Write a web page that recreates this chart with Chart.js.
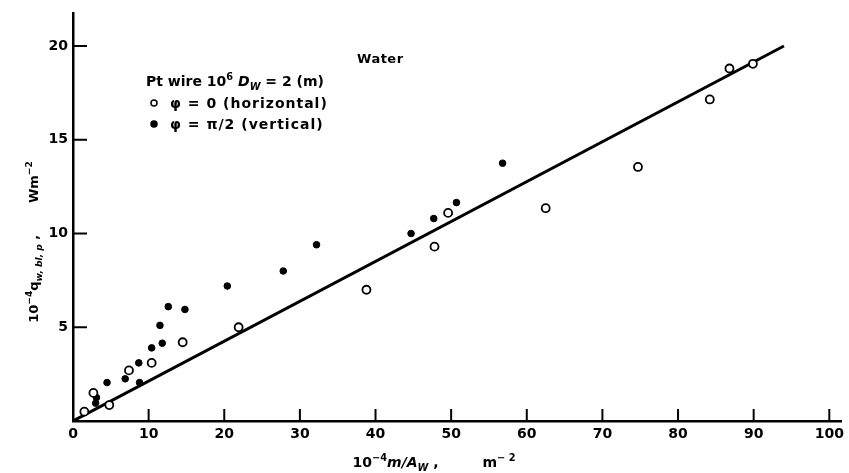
<!DOCTYPE html>
<html>
<head>
<meta charset="utf-8">
<script src="https://cdn.jsdelivr.net/npm/chart.js@4/dist/chart.umd.min.js"></script>
<style>
  html, body { margin: 0; padding: 0; background: #fff; }
  #wrap { width: 849px; height: 473px; }
</style>
</head>
<body>
<div id="wrap"><canvas id="qChart"></canvas></div>
<script>
// tick values
const xTicks = [0, 10, 20, 30, 40, 50, 60, 70, 80, 90, 100];
const yTicks = [0, 5, 10, 15, 20];

// correlation line
const lineX = [0, 94];
const lineY = [0, 20];

// phi = 0 (horizontal wire), open circles
const horizX = [1.5, 2.7, 4.8, 7.4, 10.4, 14.5, 21.9, 38.8, 47.8, 49.6, 62.5, 74.7, 84.2, 86.8, 89.9];
const horizY = [0.5, 1.5, 0.85, 2.7, 3.1, 4.2, 5.0, 7.0, 9.3, 11.1, 11.35, 13.55, 17.15, 18.8, 19.05];

// phi = pi/2 (vertical wire), filled circles
const vertX = [3.0, 3.1, 4.5, 6.9, 8.7, 8.8, 10.4, 11.5, 11.8, 12.6, 14.8, 20.4, 27.8, 32.2, 44.7, 47.7, 50.7, 56.8];
const vertY = [0.95, 1.25, 2.05, 2.25, 3.1, 2.05, 3.9, 5.1, 4.15, 6.1, 5.95, 7.2, 8.0, 9.4, 10.0, 10.8, 11.65, 13.75];

const toPts = (xs, ys) => xs.map((x, i) => ({ x: x, y: ys[i] }));

const INK = "#000";
const FONT = "'DejaVu Sans', sans-serif";

// draws text made of pieces, some raised or lowered
function segFont(s, size) {
  const fs = s.sup || s.sub ? size * 0.7 : size;
  return (s.it ? "italic " : "") + "bold " + fs + "px " + FONT;
}
function richWidth(ctx, segs, size) {
  let w = 0;
  segs.forEach(s => {
    ctx.font = segFont(s, size);
    w += ctx.measureText(s.t).width;
  });
  return w;
}
function drawRich(ctx, segs, x, y, size, align, spacing) {
  ctx.letterSpacing = (spacing || 0) + "px";
  let cx = align === "center" ? x - richWidth(ctx, segs, size) / 2 : x;
  ctx.textBaseline = "alphabetic";
  ctx.textAlign = "left";
  segs.forEach(s => {
    ctx.font = segFont(s, size);
    const dy = s.sup ? -size * 0.45 : s.sub ? size * 0.3 : 0;
    ctx.fillText(s.t, cx, y + dy);
    cx += ctx.measureText(s.t).width;
  });
  ctx.letterSpacing = "0px";
}

const decor = {
  id: "decor",
  beforeDatasetsDraw(chart) {
    const ctx = chart.ctx;
    const xs = chart.scales.x, ys = chart.scales.y;
    const a = chart.chartArea;
    ctx.save();
    ctx.strokeStyle = INK;
    ctx.lineWidth = 2;
    xTicks.slice(1).forEach(v => {
      const px = xs.getPixelForValue(v);
      ctx.beginPath();
      ctx.moveTo(px, a.bottom);
      ctx.lineTo(px, a.bottom - 12);
      ctx.stroke();
    });
    yTicks.slice(1).forEach(v => {
      const py = ys.getPixelForValue(v);
      ctx.beginPath();
      ctx.moveTo(a.left, py);
      ctx.lineTo(a.left + 14, py);
      ctx.stroke();
    });
    ctx.restore();
  },
  afterDraw(chart) {
    const ctx = chart.ctx;
    const ds = chart.data.datasets;
    ctx.save();
    ctx.fillStyle = INK;

    // x axis title
    drawRich(ctx, [
      { t: "10" }, { t: "−4", sup: true }, { t: "m/A", it: true }, { t: "W", sub: true, it: true },
      { t: " ,         m" }, { t: "− 2", sup: true }
    ], 434, 467, 14, "center");

    // y axis title
    ctx.save();
    ctx.translate(38, 242);
    ctx.rotate(-Math.PI / 2);
    drawRich(ctx, [
      { t: "10" }, { t: "−4", sup: true }, { t: "q" }, { t: "w, bl, p", sub: true, it: true },
      { t: " ,       Wm" }, { t: "−2", sup: true }
    ], 0, 0, 13, "center");
    ctx.restore();

    drawRich(ctx, [{ t: "Water" }], 357, 63, 13, "left", 0.5);
    drawRich(ctx, [
      { t: "Pt wire 10" }, { t: "6", sup: true }, { t: " D", it: true }, { t: "W", sub: true, it: true },
      { t: " = 2 (m)" }
    ], 146, 86, 14, "left", 0);

    // legend rows from the two marker datasets
    [ds[1], ds[2]].forEach((d, i) => {
      const yy = 103 + i * 21;
      ctx.beginPath();
      ctx.arc(154, yy, 3, 0, Math.PI * 2);
      ctx.fillStyle = d.backgroundColor;
      ctx.fill();
      ctx.lineWidth = 1.5;
      ctx.strokeStyle = INK;
      ctx.stroke();
      ctx.fillStyle = INK;
      drawRich(ctx, [{ t: d.label }], 170, yy + 5, 14, "left", 1);
    });
    ctx.restore();
  }
};

new Chart(document.getElementById("qChart"), {
  type: "scatter",
  data: {
    datasets: [
      {
        label: "fit",
        data: toPts(lineX, lineY),
        showLine: true,
        borderColor: INK,
        borderWidth: 3,
        pointRadius: 0,
        order: 3,
      },
      {
        label: "φ = 0 (horizontal)",
        data: toPts(horizX, horizY),
        backgroundColor: "#fff",
        borderColor: INK,
        borderWidth: 1.8,
        pointRadius: 4,
        order: 1,
      },
      {
        label: "φ = π/2 (vertical)",
        data: toPts(vertX, vertY),
        backgroundColor: INK,
        borderColor: INK,
        borderWidth: 1,
        pointRadius: 3.3,
        order: 2,
      },
    ],
  },
  options: {
    responsive: true,
    maintainAspectRatio: false,
    animation: false,
    layout: { padding: { top: 8, right: 5, left: 0, bottom: 0 } },
    plugins: {
      legend: { display: false },
      tooltip: { enabled: false },
    },
    scales: {
      x: {
        type: "linear",
        min: 0,
        max: 101.6,
        afterBuildTicks: s => { s.ticks = xTicks.map(v => ({ value: v })); },
        afterFit: s => { s.height = 52; },
        grid: { drawOnChartArea: false, drawTicks: false },
        border: { color: INK, width: 2.5 },
        ticks: { color: INK, padding: 5, font: { family: FONT, size: 14, weight: "bold" }, maxRotation: 0 },
      },
      y: {
        type: "linear",
        min: 0,
        max: 21.74,
        afterBuildTicks: s => { s.ticks = yTicks.map(v => ({ value: v })); },
        afterFit: s => { s.width = 73; },
        grid: { drawOnChartArea: false, drawTicks: false },
        border: { color: INK, width: 2.5 },
        ticks: {
          color: INK, padding: 5, font: { family: FONT, size: 14, weight: "bold" },
          callback: v => (v === 0 ? "" : v),
        },
      },
    },
  },
  plugins: [decor],
});
</script>
</body>
</html>
